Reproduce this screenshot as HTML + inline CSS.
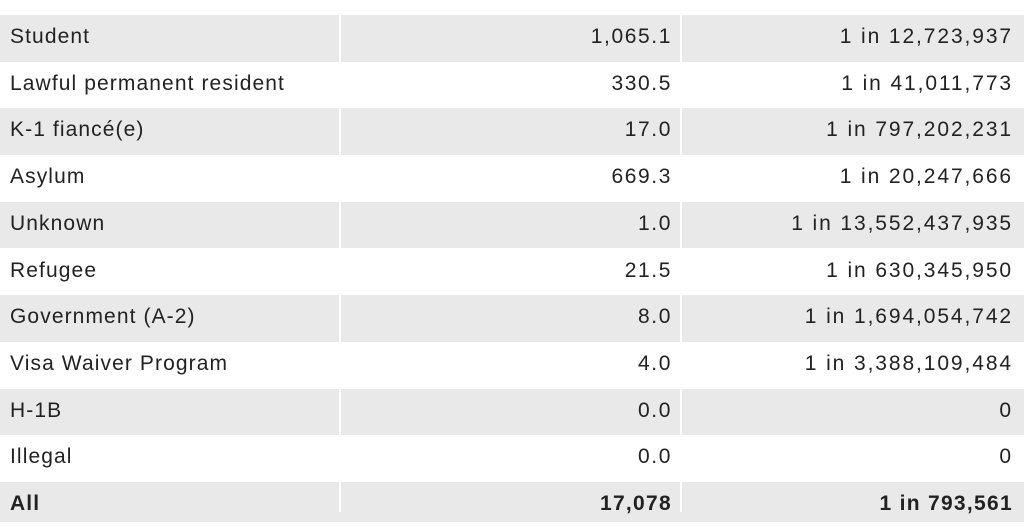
<!DOCTYPE html>
<html><head><style>
body{margin:0;width:1024px;height:512px;overflow:hidden;background:#fff;font-family:"Liberation Sans",sans-serif;color:#222;font-size:21px;letter-spacing:1.1px}
.r{position:absolute;left:0;width:1024px;height:46.7px}
.g{background:#e9e9e9}
.c{position:absolute;top:0;height:100%;line-height:44px}
.a{left:10px}
.b{right:352px;letter-spacing:1.6px}
.d{right:11px;letter-spacing:1.9px}
.v{position:absolute;top:0;width:2px;height:512px;background:#fff}
.bold{font-weight:bold}
.bold .b,.bold .d{letter-spacing:1.3px}
</style></head><body>
<div class="r g" style="top:15px"><span class="c a">Student</span><span class="c b">1,065.1</span><span class="c d">1 in 12,723,937</span></div>
<div class="r" style="top:61.7px"><span class="c a">Lawful permanent resident</span><span class="c b">330.5</span><span class="c d">1 in 41,011,773</span></div>
<div class="r g" style="top:108.4px"><span class="c a">K-1 fiancé(e)</span><span class="c b">17.0</span><span class="c d">1 in 797,202,231</span></div>
<div class="r" style="top:155.1px"><span class="c a">Asylum</span><span class="c b">669.3</span><span class="c d">1 in 20,247,666</span></div>
<div class="r g" style="top:201.8px"><span class="c a">Unknown</span><span class="c b">1.0</span><span class="c d">1 in 13,552,437,935</span></div>
<div class="r" style="top:248.5px"><span class="c a">Refugee</span><span class="c b">21.5</span><span class="c d">1 in 630,345,950</span></div>
<div class="r g" style="top:295.2px"><span class="c a">Government (A-2)</span><span class="c b">8.0</span><span class="c d">1 in 1,694,054,742</span></div>
<div class="r" style="top:341.9px"><span class="c a">Visa Waiver Program</span><span class="c b">4.0</span><span class="c d">1 in 3,388,109,484</span></div>
<div class="r g" style="top:388.6px"><span class="c a">H-1B</span><span class="c b">0.0</span><span class="c d">0</span></div>
<div class="r" style="top:435.3px"><span class="c a">Illegal</span><span class="c b">0.0</span><span class="c d">0</span></div>
<div class="r g bold" style="top:482px;height:40px"><span class="c a">All</span><span class="c b">17,078</span><span class="c d">1 in 793,561</span></div>
<div class="v" style="left:339px"></div>
<div class="v" style="left:680px"></div>
</body></html>
